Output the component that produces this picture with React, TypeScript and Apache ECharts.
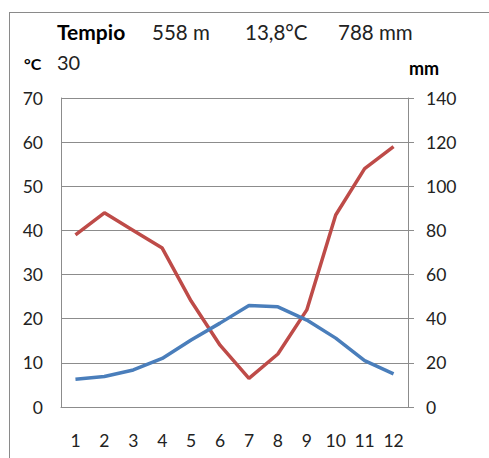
import React, { useEffect, useRef } from "react";
import * as echarts from "echarts";

// Climate diagram for Tempio: monthly temperature (°C) and precipitation (mm)
const months: string[] = ["1", "2", "3", "4", "5", "6", "7", "8", "9", "10", "11", "12"];
const temperature: number[] = [6.3, 6.9, 8.4, 11.0, 15.2, 19.0, 23.0, 22.7, 19.7, 15.6, 10.5, 7.5];
const precipitation: number[] = [78, 88, 80, 72, 48, 28, 13, 24, 44, 87, 108, 118];

const station = "Tempio";
const altitude = "558 m";
const meanTemp = "13,8°C";
const totalRain = "788 mm";

const FONT = "Lato, 'Open Sans', sans-serif";
const TEXT = "#222";
const GRID = "#8c8c8c";

export default function App() {
  const ref = useRef<HTMLDivElement>(null);

  useEffect(() => {
    if (!ref.current) return;
    const chart = echarts.init(ref.current, null, { renderer: "svg" });
    const labelStyle = { color: TEXT, fontSize: 17.5, fontFamily: FONT };
    chart.setOption({
      animation: false,
      backgroundColor: "#fff",
      grid: { left: 61, top: 98, right: 81, bottom: 51, containLabel: false },
      xAxis: {
        type: "category",
        data: months,
        boundaryGap: true,
        axisLine: { show: true, lineStyle: { color: GRID, width: 1 } },
        axisTick: { show: false },
        axisLabel: { ...labelStyle, margin: 24 },
        splitLine: { show: false },
      },
      yAxis: [
        {
          type: "value",
          min: 0,
          max: 70,
          interval: 10,
          position: "left",
          axisLine: { show: true, lineStyle: { color: GRID, width: 1 } },
          axisTick: { show: false },
          axisLabel: { ...labelStyle, margin: 18 },
          splitLine: { show: true, lineStyle: { color: GRID, width: 1 } },
        },
        {
          type: "value",
          min: 0,
          max: 140,
          interval: 20,
          position: "right",
          axisLine: { show: true, lineStyle: { color: GRID, width: 1 } },
          axisTick: { show: true, length: 6, lineStyle: { color: GRID, width: 1 } },
          axisLabel: { ...labelStyle, margin: 18 },
          splitLine: { show: false },
        },
      ],
      series: [
        {
          name: "Temperatura",
          type: "line",
          yAxisIndex: 0,
          data: temperature,
          showSymbol: false,
          symbol: "none",
          lineStyle: { color: "#4a7ebb", width: 3.5 },
          z: 3,
        },
        {
          name: "Precipitazioni",
          type: "line",
          yAxisIndex: 1,
          data: precipitation,
          showSymbol: false,
          symbol: "none",
          lineStyle: { color: "#be4b48", width: 3.5 },
          z: 2,
        },
      ],
      graphic: [
        {
          type: "line",
          shape: { x1: 9.5, y1: 12, x2: 9.5, y2: 458 },
          style: { stroke: "#8a8a8a", lineWidth: 1 },
        },
        {
          type: "line",
          shape: { x1: 9, y1: 12.5, x2: 489, y2: 12.5 },
          style: { stroke: "#8a8a8a", lineWidth: 1 },
        },
        {
          type: "text",
          left: 57,
          top: 21,
          style: { text: station, fontSize: 21, fontWeight: "bold", fill: "#000", fontFamily: FONT },
        },
        {
          type: "text",
          left: 152,
          top: 21,
          style: { text: altitude, fontSize: 20.5, fill: TEXT, fontFamily: FONT },
        },
        {
          type: "text",
          left: 245,
          top: 21,
          style: { text: meanTemp, fontSize: 20.5, fill: TEXT, fontFamily: FONT },
        },
        {
          type: "text",
          left: 338,
          top: 21,
          style: { text: totalRain, fontSize: 20.5, fill: TEXT, fontFamily: FONT },
        },
        {
          type: "text",
          left: 24,
          top: 55,
          style: { text: "°C", fontSize: 16, fontWeight: "bold", fill: "#000", fontFamily: FONT },
        },
        {
          type: "text",
          left: 57,
          top: 52,
          style: { text: "30", fontSize: 20, fill: TEXT, fontFamily: FONT },
        },
        {
          type: "text",
          left: 409,
          top: 59,
          style: { text: "mm", fontSize: 18, fontWeight: "bold", fill: "#000", fontFamily: FONT },
        },
      ],
    });
    return () => chart.dispose();
  }, []);

  return (
    <div
      ref={ref}
      style={{ position: "fixed", left: 0, top: 0, width: 489, height: 458, background: "#fff" }}
    />
  );
}
